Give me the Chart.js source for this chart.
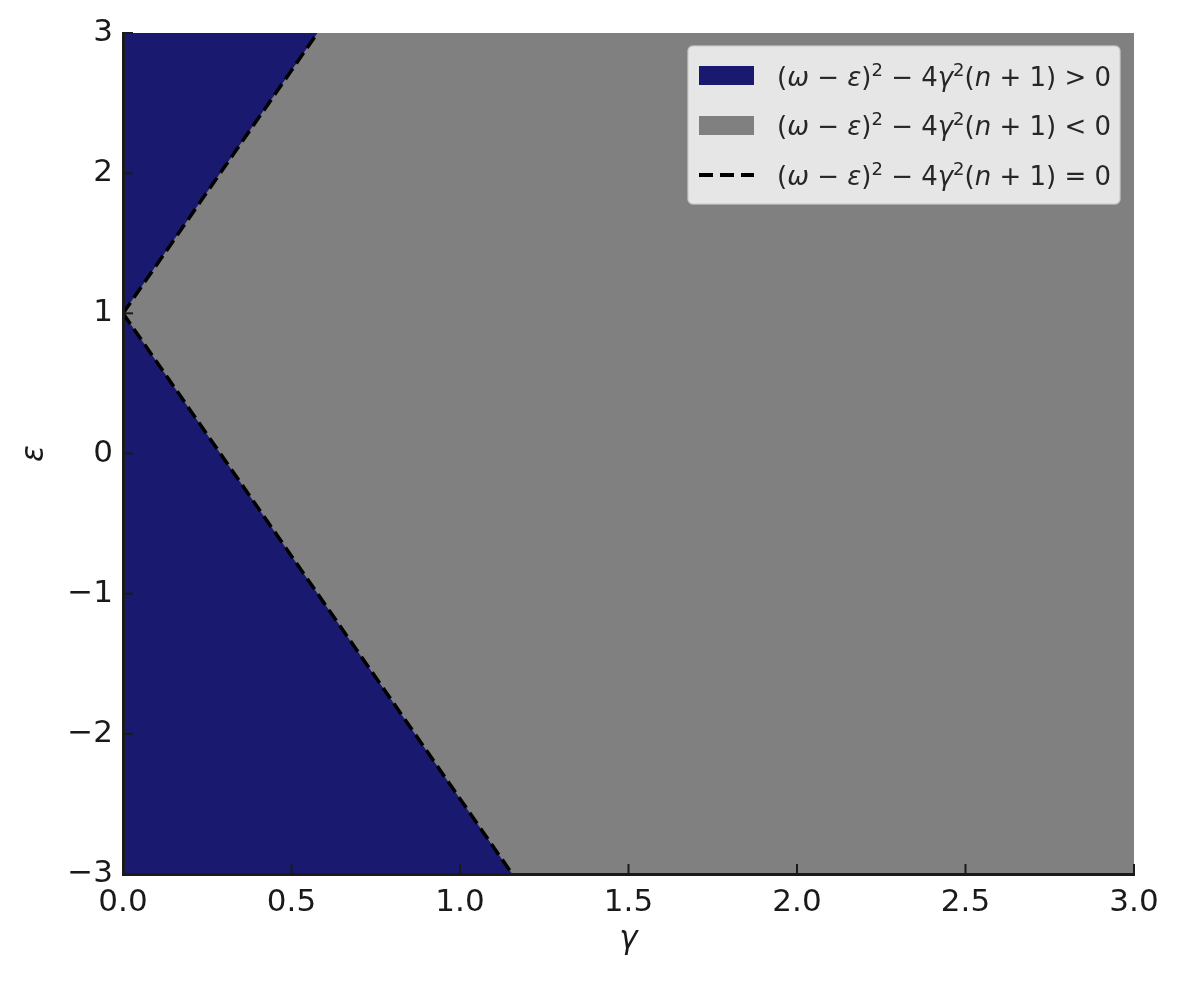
<!DOCTYPE html>
<html>
<head>
<meta charset="utf-8">
<script src="https://cdn.jsdelivr.net/npm/chart.js@4.4.1/dist/chart.umd.min.js"></script>
<style>
  html, body { margin: 0; padding: 0; background: #ffffff; }
  #wrap { width: 1180px; height: 981px; }
</style>
</head>
<body>
<div id="wrap"><canvas id="regionChart" width="1180" height="981"></canvas></div>
<script>
'use strict';

// ===== DONNÉES =====
const gammaRange = [0, 3];
const epsRange = [-3, 3];
const gammaTicks = [0, 0.5, 1, 1.5, 2, 2.5, 3];
const epsTicks = [-3, -2, -1, 0, 1, 2, 3];

// frontière (omega - eps)^2 = 4 gamma^2 (n+1)
const upperGamma = [0, 0.577];
const upperEps = [1, 3];
const lowerGamma = [0, 1.155];
const lowerEps = [1, -3];

const legendSigns = ['>', '<', '='];

// ===== STYLES =====
const NAVY = '#191970';
const GREY = '#808080';
const INK = '#1a1a1a';
const FONT = "'DejaVu Sans', 'Liberation Sans', sans-serif";

function toPoints(xs, ys) {
    return xs.map(function(x, i) { return { x: x, y: ys[i] }; });
}

// ===== TICKS VERS L'INTÉRIEUR =====
const innerTicks = {
    id: 'innerTicks',
    afterDraw: function(chart) {
        const ctx = chart.ctx;
        const area = chart.chartArea;
        const xs = chart.scales.x;
        const ys = chart.scales.y;
        ctx.save();
        ctx.strokeStyle = INK;
        ctx.lineWidth = 2;
        gammaTicks.forEach(function(v) {
            const px = xs.getPixelForValue(v);
            ctx.beginPath();
            ctx.moveTo(px, area.bottom);
            ctx.lineTo(px, area.bottom - 10);
            ctx.stroke();
        });
        epsTicks.forEach(function(v) {
            const py = ys.getPixelForValue(v);
            ctx.beginPath();
            ctx.moveTo(area.left, py);
            ctx.lineTo(area.left + 10, py);
            ctx.stroke();
        });
        ctx.restore();
    }
};

// ===== LÉGENDE (texte mathématique) =====
function drawMath(ctx, x, y, size, sign) {
    const parts = [
        ['(', 'n'], ['\u03c9', 'i'], [' \u2212 ', 'n'], ['\u03b5', 'i'], [')', 'n'], ['2', 's'],
        [' \u2212 4', 'n'], ['\u03b3', 'i'], ['2', 's'], ['(', 'n'], ['n', 'i'],
        [' + 1) ' + sign + ' 0', 'n']
    ];
    parts.forEach(function(p) {
        let yy = y;
        if (p[1] === 'i') {
            ctx.font = 'italic ' + size + 'px ' + FONT;
        } else if (p[1] === 's') {
            ctx.font = Math.round(size * 0.7) + 'px ' + FONT;
            yy = y - size * 0.38;
        } else {
            ctx.font = size + 'px ' + FONT;
        }
        ctx.fillText(p[0], x, yy);
        x += ctx.measureText(p[0]).width;
    });
}

const mathLegend = {
    id: 'mathLegend',
    afterDraw: function(chart) {
        const ctx = chart.ctx;
        const bx = 688, by = 46, bw = 432, bh = 158;
        ctx.save();
        ctx.beginPath();
        ctx.roundRect(bx, by, bw, bh, 5);
        ctx.fillStyle = 'rgba(255,255,255,0.8)';
        ctx.fill();
        ctx.strokeStyle = 'rgba(204,204,204,0.8)';
        ctx.lineWidth = 1.5;
        ctx.stroke();

        ctx.fillStyle = NAVY;
        ctx.fillRect(699, 66, 55, 19);
        ctx.fillStyle = GREY;
        ctx.fillRect(699, 116, 55, 19);

        ctx.strokeStyle = '#000000';
        ctx.lineWidth = 4;
        ctx.setLineDash([14, 7]);
        ctx.beginPath();
        ctx.moveTo(699, 175);
        ctx.lineTo(754, 175);
        ctx.stroke();
        ctx.setLineDash([]);

        ctx.fillStyle = '#262626';
        ctx.textBaseline = 'alphabetic';
        const rows = [76, 125, 175];
        legendSigns.forEach(function(s, i) {
            drawMath(ctx, 777, rows[i] + 10, 26, s);
        });
        ctx.restore();
    }
};

// ===== GRAPHIQUE =====
document.addEventListener('DOMContentLoaded', function() {
    const canvas = document.getElementById('regionChart');

    new Chart(canvas, {
        type: 'scatter',
        data: {
            datasets: [
                {
                    label: 'upper',
                    data: toPoints(upperGamma, upperEps),
                    showLine: true,
                    fill: 'end',
                    backgroundColor: NAVY,
                    borderColor: '#000000',
                    borderWidth: 3.5,
                    borderDash: [13, 6],
                    pointRadius: 0,
                    order: 1
                },
                {
                    label: 'lower',
                    data: toPoints(lowerGamma, lowerEps),
                    showLine: true,
                    fill: 'start',
                    backgroundColor: NAVY,
                    borderColor: '#000000',
                    borderWidth: 3.5,
                    borderDash: [13, 6],
                    pointRadius: 0,
                    order: 1
                },
                {
                    label: 'background',
                    data: toPoints(gammaRange, [epsRange[1], epsRange[1]]),
                    showLine: true,
                    fill: 'start',
                    backgroundColor: GREY,
                    borderWidth: 0,
                    pointRadius: 0,
                    order: 10
                }
            ]
        },
        options: {
            responsive: false,
            animation: false,
            layout: { padding: { top: 33, right: 46, bottom: 0, left: 0 } },
            plugins: {
                legend: { display: false },
                tooltip: { enabled: false }
            },
            scales: {
                x: {
                    type: 'linear',
                    min: gammaRange[0],
                    max: gammaRange[1],
                    afterFit: function(scale) { scale.height = 107; },
                    afterBuildTicks: function(scale) {
                        scale.ticks = gammaTicks.map(function(v) { return { value: v }; });
                    },
                    ticks: {
                        padding: 10,
                        color: INK,
                        font: { family: FONT, size: 31 },
                        maxRotation: 0,
                        callback: function(v) { return v.toFixed(1); }
                    },
                    grid: { display: false, drawTicks: false },
                    border: { display: true, color: INK, width: 3, z: 2 },
                    title: {
                        display: true,
                        text: '\u03b3',
                        color: INK,
                        font: { family: FONT, size: 31, style: 'italic' },
                        padding: { top: 0, bottom: 22 }
                    }
                },
                y: {
                    type: 'linear',
                    min: epsRange[0],
                    max: epsRange[1],
                    afterFit: function(scale) { scale.width = 123; },
                    afterBuildTicks: function(scale) {
                        scale.ticks = epsTicks.map(function(v) { return { value: v }; });
                    },
                    ticks: {
                        padding: 10,
                        color: INK,
                        font: { family: FONT, size: 31 },
                        callback: function(v) { return String(v).replace('-', '\u2212'); }
                    },
                    grid: { display: false, drawTicks: false },
                    border: { display: true, color: INK, width: 3, z: 2 },
                    title: {
                        display: true,
                        text: '\u03b5',
                        color: INK,
                        font: { family: FONT, size: 31, style: 'italic' },
                        padding: { top: 16, bottom: 0 }
                    }
                }
            }
        },
        plugins: [innerTicks, mathLegend]
    });
});
</script>
</body>
</html>
